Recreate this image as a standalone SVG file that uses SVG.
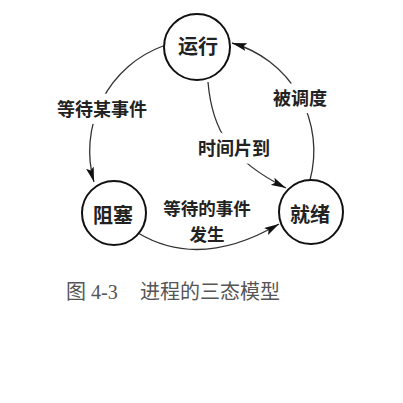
<svg xmlns="http://www.w3.org/2000/svg" width="403" height="403" viewBox="0 0 403 403">
<style>
.node circle{fill:#fff;stroke:#111;stroke-width:2}
.node text{font-family:"Noto Sans CJK SC",sans-serif;font-size:20px;font-weight:bold;fill:#222;text-anchor:middle;dominant-baseline:central}
.edge{fill:none;stroke:#333;stroke-width:1.3;marker-end:url(#arr)}
.lbl{font-family:"Noto Sans CJK SC",sans-serif;font-size:18px;font-weight:bold;fill:#222;text-anchor:middle;dominant-baseline:central;stroke:#fff;stroke-width:13;paint-order:stroke;stroke-linejoin:round}
.lbl2{font-size:17.5px;stroke-width:4}
.cap{font-family:"Liberation Serif","Noto Sans CJK SC",serif;font-size:20px;fill:#555}
</style>
<defs>
<marker id="arr" markerUnits="userSpaceOnUse" markerWidth="16" markerHeight="8" refX="15" refY="4" orient="auto">
<path d="M0,0 L15,4 L0,8 L3,4 z" fill="#111"/>
</marker>
</defs>
<rect width="403" height="403" fill="#fff"/>
<g id="connectors">
<path class="edge" d="M163,46 A112,112 0 0 0 94,182"/>
<path class="edge" d="M310,180 A112,112 0 0 0 232,43"/>
<path class="edge" d="M208,82 C212,130 230,160 286,188"/>
<path class="edge" d="M138,233 Q200,270 279,224"/>
</g>
<g id="labels">
<text class="lbl" x="102" y="108">等待某事件</text>
<text class="lbl" x="300" y="97">被调度</text>
<text class="lbl" x="234" y="147">时间片到</text>
<text class="lbl lbl2" x="207" y="207.5">等待的事件</text>
<text class="lbl lbl2" x="207" y="233.5">发生</text>
</g>
<g id="node-running" class="node">
<circle cx="197" cy="47" r="33"/>
<text x="198" y="45">运行</text>
</g>
<g id="node-blocked" class="node">
<circle cx="114" cy="213" r="32"/>
<text x="113" y="214">阻塞</text>
</g>
<g id="node-ready" class="node">
<circle cx="311" cy="212" r="32"/>
<text x="310" y="213">就绪</text>
</g>
<g id="caption">
<text class="cap" x="66" y="299">图 4-3<tspan x="140">进程的三态模型</tspan></text>
</g>
</svg>
